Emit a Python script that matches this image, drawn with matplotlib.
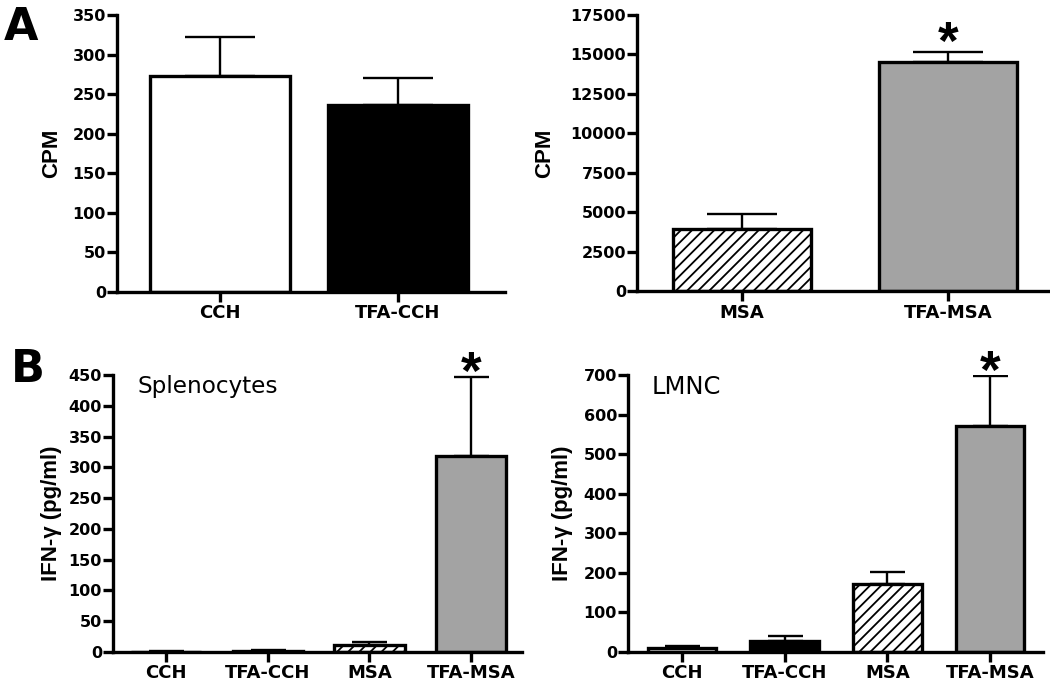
import matplotlib
matplotlib.use("Agg")
import matplotlib.pyplot as plt
import numpy as np

plt.rcParams['font.family'] = ['DejaVu Sans']
plt.rcParams['hatch.linewidth'] = 1.3

# ---- data ----
tl_cats = ['CCH', 'TFA-CCH']
tl_vals = [273, 236]
tl_err = [49, 35]

tr_cats = ['MSA', 'TFA-MSA']
tr_vals = [3930, 14520]
tr_err = [950, 630]

bl_cats = ['CCH', 'TFA-CCH', 'MSA', 'TFA-MSA']
bl_vals = [0.5, 2, 12, 319]
bl_err = [0.5, 1, 4, 127]

br_cats = ['CCH', 'TFA-CCH', 'MSA', 'TFA-MSA']
br_vals = [11, 29, 172, 572]
br_err = [3, 11, 29, 125]

# ---- styles ----
STYLE = {
    'CCH': dict(color='white', hatch=None),
    'TFA-CCH': dict(color='black', hatch=None),
    'MSA': dict(color='white', hatch='///'),
    'TFA-MSA': dict(color='#a3a3a3', hatch=None),
}

fig = plt.figure(figsize=(10.5, 6.88), dpi=100)

LW = 2.4
YLAB_FONT = ['Liberation Sans', 'DejaVu Sans']


def panel(rect, cats, vals, errs, ylim, ystep, xlim, width, capsize, ylabel,
          label_x, stars=(), star_off=15, inner_text=None):
    ax = fig.add_axes(rect)
    x = np.arange(len(cats))
    for xi, c, v in zip(x, cats, vals):
        st = STYLE[c]
        ax.bar(xi, v, width=width, color=st['color'], hatch=st['hatch'],
               edgecolor='black', linewidth=LW, zorder=2)
    ax.errorbar(x, vals, yerr=[np.zeros(len(vals)), errs], fmt='none',
                ecolor='black', elinewidth=1.7, capsize=capsize, capthick=1.7,
                zorder=1)
    ax.set_xlim(*xlim)
    ax.set_ylim(*ylim)
    ax.set_yticks(np.arange(ylim[0], ylim[1] + ystep / 2, ystep))
    ax.set_xticks(x)
    ax.set_xticklabels(cats)
    for s in ['top', 'right']:
        ax.spines[s].set_visible(False)
    for s in ['left', 'bottom']:
        ax.spines[s].set_linewidth(LW)
        ax.spines[s].set_zorder(5)
    ax.tick_params(axis='y', length=7, width=LW, pad=1, labelsize=11.5)
    ax.tick_params(axis='x', length=7, width=LW, pad=2, labelsize=13)
    for lab in ax.get_xticklabels() + ax.get_yticklabels():
        lab.set_fontweight('bold')
    ax.set_ylabel(ylabel, fontsize=16, fontweight='bold', family=YLAB_FONT)
    ax.yaxis.set_label_coords(label_x, 0.5)
    for i in stars:
        ax.annotate('*', xy=(x[i], vals[i] + errs[i]), xytext=(0, star_off),
                    textcoords='offset points', ha='center', va='center',
                    fontsize=38, fontweight='bold', family=['Liberation Sans'])
    if inner_text:
        ax.text(inner_text[1], inner_text[2], inner_text[0], transform=ax.transAxes,
                fontsize=inner_text[3], ha='left', va='center')
    ax.patch.set_visible(False)
    return ax


ifn = 'IFN-γ (pg/ml)'

panel([117 / 1050, 1 - 292 / 688, 388 / 1050, 277 / 688], tl_cats, tl_vals, tl_err,
      (0, 350), 50, (-0.579, 1.601), 0.787, 25, 'CPM', -0.142)
panel([637 / 1050, 1 - 291 / 688, 412 / 1050, 276 / 688], tr_cats, tr_vals, tr_err,
      (0, 17500), 2500, (-0.507, 1.488), 0.67, 25, 'CPM', -0.199,
      stars=[1], star_off=5)
panel([113 / 1050, 1 - 652 / 688, 409 / 1050, 277 / 688], bl_cats, bl_vals, bl_err,
      (0, 450), 50, (-0.521, 3.50), 0.69, 12.6, ifn, -0.125,
      stars=[3], star_off=1.5, inner_text=('Splenocytes', 0.059, 0.957, 16.7))
panel([628 / 1050, 1 - 652 / 688, 415 / 1050, 277 / 688], br_cats, br_vals, br_err,
      (0, 700), 100, (-0.526, 3.516), 0.67, 12.6, ifn, -0.1325,
      stars=[3], star_off=1.5, inner_text=('LMNC', 0.058, 0.957, 17.5))

fig.text(4 / 1050, 1 - 40 / 688, 'A', fontsize=32, fontweight='bold', va='baseline', ha='left')
fig.text(11 / 1050, 1 - 382 / 688, 'B', fontsize=32, fontweight='bold', va='baseline', ha='left')

fig.savefig('out.png', dpi=100)
